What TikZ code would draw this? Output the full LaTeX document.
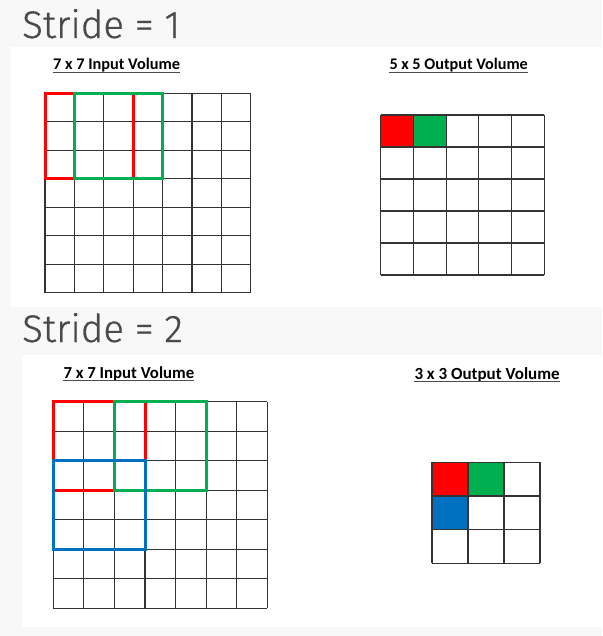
\documentclass[tikz,border=0pt]{standalone}
\usepackage{fontspec}
\newfontfamily\titlefont{Fira Sans Light}[FakeBold=0.7]
\newfontfamily\labfont{Carlito}
\definecolor{bgray}{HTML}{F8F8F8}
\definecolor{tgray}{HTML}{4A4A4A}
\definecolor{gline}{HTML}{333333}
\definecolor{kred}{HTML}{FF0000}
\definecolor{kgreen}{HTML}{00B050}
\definecolor{kblue}{HTML}{0070C0}
\tikzset{
  gridline/.style={draw=gline, line width=1.1pt},
  kern/.style={line width=3pt, line join=miter},
  title/.style={inner sep=0pt, anchor=base west, text=tgray, font=\titlefont\fontsize{38.5}{40}\selectfont},
  lab/.style={inner sep=0pt, anchor=base west, text=black},
  uline/.style={draw=black!70, line width=1.4pt}
}
\newcommand{\gridlines}[2]{%
  \foreach \i in {0,...,#1} \draw[gridline] (\i,0) -- (\i,#2);
  \foreach \j in {0,...,#2} \draw[gridline] (0,\j) -- (#1,\j);
}
\begin{document}
\begin{tikzpicture}[x=1pt,y=-1pt]
\fill[bgray] (0,0) rectangle (602,636);
\useasboundingbox (0,0) rectangle (602,636);
\fill[white] (11,47) rectangle (602,307);
\fill[white] (22,355) rectangle (602,627);

\node[title] (t1) at (22,38) {Stride = 1};
\node[title] (t2) at (22,342) {Stride = 2};

% labels
\node[lab, font=\labfont\bfseries\fontsize{16.3}{18}\selectfont] (l1) at (53,70) {7 x 7 Input Volume};
\draw[uline] ([yshift=-2.6pt]l1.base west) -- ([yshift=-2.6pt]l1.base east);
\node[lab, font=\labfont\bfseries\fontsize{16.2}{18}\selectfont] (l2) at (389.3,70) {5 x 5 Output Volume};
\draw[uline] ([yshift=-2.6pt]l2.base west) -- ([yshift=-2.6pt]l2.base east);
\node[lab, font=\labfont\bfseries\fontsize{16.8}{18}\selectfont] (l3) at (63.3,378) {7 x 7 Input Volume};
\draw[uline] ([yshift=-2.7pt]l3.base west) -- ([yshift=-2.7pt]l3.base east);
\node[lab, font=\labfont\bfseries\fontsize{17}{18}\selectfont] (l4) at (414.3,379) {3 x 3 Output Volume};
\draw[uline] ([yshift=-2.7pt]l4.base west) -- ([yshift=-2.7pt]l4.base east);

% top input grid
\begin{scope}[shift={(45,93.3)}, x=29.39pt, y=-28.49pt]
  \gridlines{7}{7}
  \draw[kern, kred] (0,0) rectangle (3,3);
  \draw[kern, kgreen] (1,0) rectangle (4,3);
\end{scope}

% top output grid
\begin{scope}[shift={(380.7,115)}, x=32.72pt, y=-32pt]
  \fill[kred] (0,0) rectangle (1,1);
  \fill[kgreen] (1,0) rectangle (2,1);
  \gridlines{5}{5}
\end{scope}

% bottom input grid
\begin{scope}[shift={(53.3,401.7)}, x=30.57pt, y=-29.52pt]
  \gridlines{7}{7}
  \draw[kern, kred] (0,0) rectangle (3,3);
  \draw[kern, kgreen] (2,0) rectangle (5,3);
  \draw[kern, kblue] (0,2) rectangle (3,5);
\end{scope}

% bottom output grid
\begin{scope}[shift={(432,462.3)}, x=36pt, y=-33.67pt]
  \fill[kred] (0,0) rectangle (1,1);
  \fill[kgreen] (1,0) rectangle (2,1);
  \fill[kblue] (0,1) rectangle (1,2);
  \gridlines{3}{3}
\end{scope}
\end{tikzpicture}
\end{document}
